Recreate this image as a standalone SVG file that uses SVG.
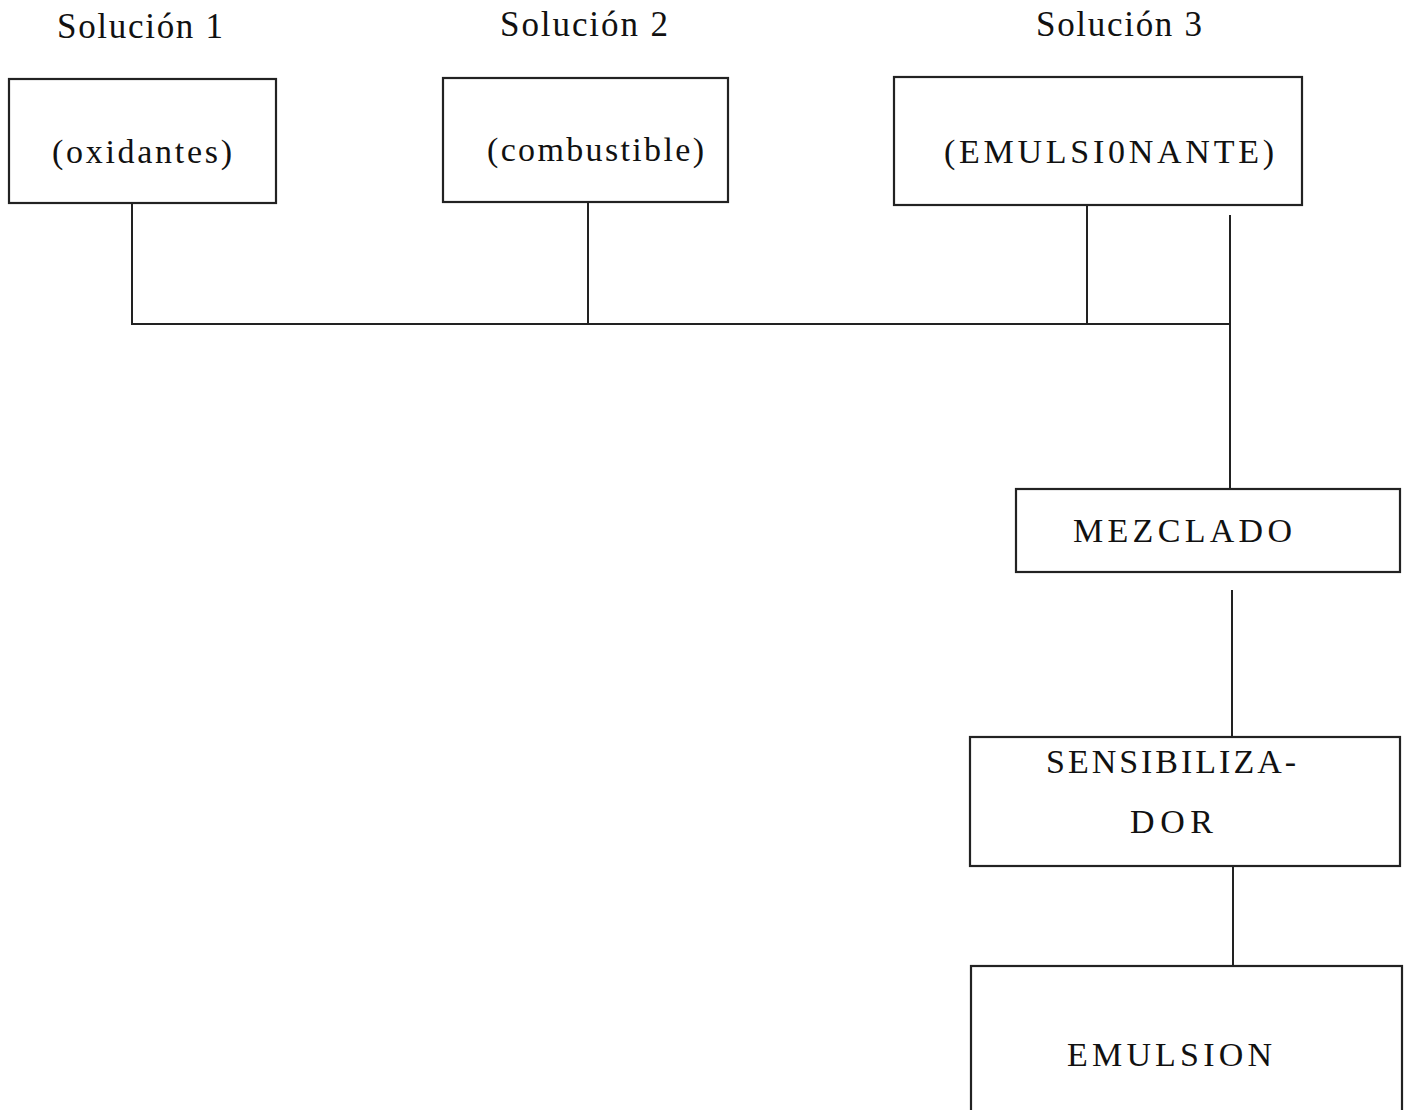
<svg xmlns="http://www.w3.org/2000/svg" width="1410" height="1110" viewBox="0 0 1410 1110">
<style>
.box{fill:#fff;stroke:#222;stroke-width:2.2}
.ln{stroke:#222;stroke-width:2;fill:none}
text{font-family:"Liberation Serif","Times New Roman",serif;font-size:34px;fill:#111}
.h{font-size:35px}
</style>
<rect width="1410" height="1110" fill="#fff"/>
<g id="labels">
<text class="h" x="57" y="38" textLength="166" lengthAdjust="spacing">Solución 1</text>
<text class="h" x="500" y="36" textLength="168" lengthAdjust="spacing">Solución 2</text>
<text class="h" x="1036" y="36" textLength="166" lengthAdjust="spacing">Solución 3</text>
</g>
<g id="connectors">
<path class="ln" d="M132 203V325M588 202V325M1087 205V325M1230 215V489M132 324H1230M1232 590V737M1233 866V966"/>
</g>
<g id="n-oxidantes">
<rect class="box" x="9" y="79" width="267" height="124"/>
<text x="52" y="163" textLength="180" lengthAdjust="spacing">(oxidantes)</text>
</g>
<g id="n-combustible">
<rect class="box" x="443" y="78" width="285" height="124"/>
<text x="487" y="161" textLength="217" lengthAdjust="spacing">(combustible)</text>
</g>
<g id="n-emulsionante">
<rect class="box" x="894" y="77" width="408" height="128"/>
<text x="944" y="163" textLength="330" lengthAdjust="spacing">(EMULSI0NANTE)</text>
</g>
<g id="n-mezclado">
<rect class="box" x="1016" y="489" width="384" height="83"/>
<text x="1073" y="542" textLength="219" lengthAdjust="spacing">MEZCLADO</text>
</g>
<g id="n-sensibilizador">
<rect class="box" x="970" y="737" width="430" height="129"/>
<text x="1046" y="773" textLength="250" lengthAdjust="spacing">SENSIBILIZA-</text>
<text x="1130" y="833" textLength="83" lengthAdjust="spacing">DOR</text>
</g>
<g id="n-emulsion">
<rect class="box" x="971" y="966" width="431" height="160"/>
<text x="1067" y="1066" textLength="205" lengthAdjust="spacing">EMULSION</text>
</g>
</svg>
